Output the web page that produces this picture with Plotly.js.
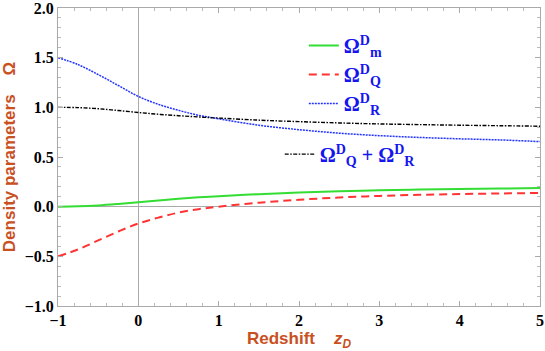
<!DOCTYPE html>
<html>
<head>
<meta charset="utf-8">
<script src="https://cdn.plot.ly/plotly-3.0.1.min.js"></script>
<style>body{margin:0;background:#fff}</style>
</head>
<body>
<div id="chart" style="width:545px;height:351px"></div>
<script>
// redshift grid
var z = [-1, -0.75, -0.5, -0.25, 0, 0.25, 0.5, 0.75, 1, 1.5, 2, 2.5, 3, 3.5, 4, 4.5, 5];

// density parameters
var omegaM  = [0.00, 0.003, 0.012, 0.027, 0.045, 0.063, 0.08, 0.094, 0.106, 0.126, 0.142, 0.155, 0.165, 0.172, 0.178, 0.183, 0.187];
var omegaQ  = [-0.50, -0.43, -0.34, -0.25, -0.17, -0.11, -0.06, -0.025, 0.00, 0.04, 0.07, 0.092, 0.108, 0.119, 0.127, 0.133, 0.138];
var omegaR  = [1.50, 1.43, 1.33, 1.22, 1.11, 1.03, 0.97, 0.92, 0.885, 0.82, 0.775, 0.74, 0.715, 0.697, 0.683, 0.672, 0.655];
var omegaQR = [1.00, 0.997, 0.986, 0.968, 0.948, 0.93, 0.916, 0.903, 0.892, 0.871, 0.856, 0.843, 0.833, 0.826, 0.82, 0.815, 0.81];

var trM = {
  x: z, y: omegaM, mode: 'lines', type: 'scatter',
  name: '\u03A9<sup>D</sup><sub>m</sub>',
  line: {color: '#33dd33', width: 2, shape: 'spline'}
};
var trQ = {
  x: z, y: omegaQ, mode: 'lines', type: 'scatter',
  name: '\u03A9<sup>D</sup><sub>Q</sub>',
  line: {color: '#ff3333', width: 2, dash: '8px,5px', shape: 'spline'}
};
var trR = {
  x: z, y: omegaR, mode: 'lines', type: 'scatter',
  name: '\u03A9<sup>D</sup><sub>R</sub>',
  line: {color: '#2233ff', width: 1.5, dash: '2px,1px', shape: 'spline'}
};
var trQR = {
  x: z, y: omegaQR, mode: 'lines', type: 'scatter',
  name: '\u03A9<sup>D</sup><sub>Q</sub> + \u03A9<sup>D</sup><sub>R</sub>',
  legend: 'legend2',
  line: {color: '#000000', width: 1.4, dash: '4px,1.5px,1.5px,1.5px', shape: 'spline'}
};

var titleColor = '#c9501f';
var serif = 'Liberation Serif, DejaVu Serif, serif';
var tickFont = {family: serif, size: 16, color: '#000', weight: 'bold'};
var legFont = {family: serif, size: 20, color: '#1515ee', weight: 'bold'};

var layout = {
  width: 545,
  height: 351,
  margin: {l: 58, r: 5, t: 8, b: 45},
  paper_bgcolor: '#fff',
  plot_bgcolor: '#fff',
  showlegend: true,
  xaxis: {
    range: [-1, 5],
    dtick: 1,
    showgrid: false,
    zeroline: true,
    zerolinecolor: '#aaaaaa',
    zerolinewidth: 1,
    showline: true,
    linecolor: '#aaaaaa',
    linewidth: 1,
    mirror: 'ticks',
    ticks: 'inside',
    ticklen: 5,
    tickcolor: '#aaaaaa',
    ticklabeloverflow: 'allow',
    minor: {dtick: 0.2, ticks: 'inside', ticklen: 3, tickcolor: '#bbbbbb'},
    tickfont: tickFont,
    title: {
      text: '<b>Redshift    <i>z<sub>D</sub></i></b>',
      font: {family: 'Liberation Sans, Arial, sans-serif', size: 17, color: titleColor},
      standoff: 8
    }
  },
  yaxis: {
    range: [-1, 2],
    dtick: 0.5,
    tickformat: '.1f',
    showgrid: false,
    zeroline: true,
    zerolinecolor: '#aaaaaa',
    zerolinewidth: 1,
    showline: true,
    linecolor: '#aaaaaa',
    linewidth: 1,
    mirror: 'ticks',
    ticks: 'inside',
    ticklen: 5,
    tickcolor: '#aaaaaa',
    ticklabeloverflow: 'allow',
    minor: {dtick: 0.1, ticks: 'inside', ticklen: 3, tickcolor: '#bbbbbb'},
    tickfont: tickFont,
    title: {
      text: '<b>Density parameters    \u03A9</b>',
      font: {family: 'Liberation Sans, Arial, sans-serif', size: 17, color: titleColor},
      standoff: 4
    }
  },
  legend: {
    x: 0.51, y: 0.94, xanchor: 'left', yanchor: 'top',
    bgcolor: 'rgba(0,0,0,0)',
    font: legFont,
    itemwidth: 30,
    tracegroupgap: 0
  },
  legend2: {
    x: 0.46, y: 0.575, xanchor: 'left', yanchor: 'top',
    bgcolor: 'rgba(0,0,0,0)',
    font: legFont,
    itemwidth: 30
  }
};

Plotly.newPlot('chart', [trM, trQ, trR, trQR], layout, {displayModeBar: false});
</script>
</body>
</html>
